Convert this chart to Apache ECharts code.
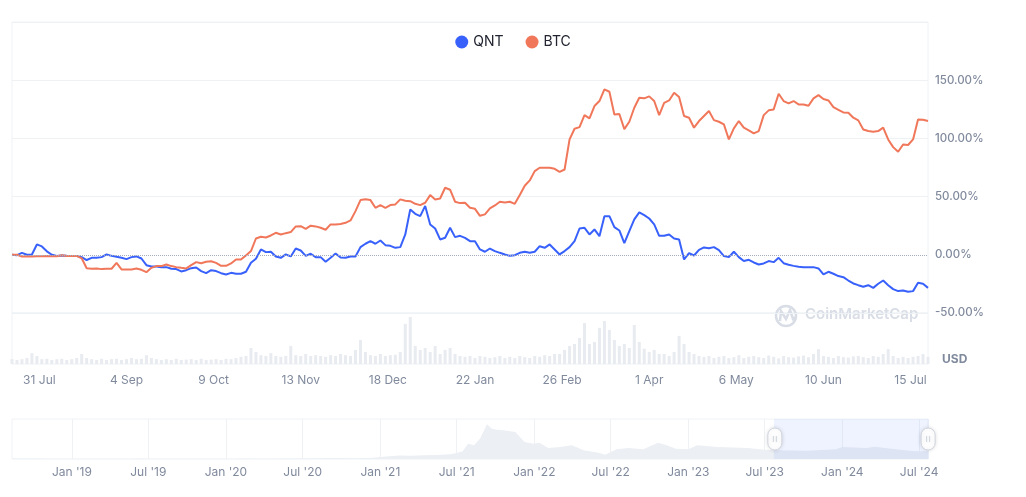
<!DOCTYPE html>
<html>
<head>
<meta charset="utf-8">
<title>QNT vs BTC</title>
<script src="https://cdn.jsdelivr.net/npm/echarts@6/dist/echarts.min.js"></script>
<style>
	html, body { margin: 0; padding: 0; background: #fff; }
	#mainchart { width: 1026px; height: 497px; }
</style>
</head>
<body>
<div id="mainchart"></div>
<script>
// one point every 2 days, starting 20 Jul 2023
var startDay = '2023-07-20'
var stepDays = 2

// % change since start
var qntChange = [
	0, -0.3, 1.7, 0, 0.3, 8.9, 7.2, 3.0, 0, -1.1,
	-0.6, -0.9, -1.1, -1.1, -2.0, -4.5, -2.6, -2.6, -2.0, 0.3,
	-0.9, -1.7, -2.6, -3.7, -2.0, -1.4, -3.2, -8.9, -10.0, -10.0,
	-10.6, -10.6, -12.0, -12.3, -14.3, -13.2, -11.5, -10.9, -14.0, -15.8,
	-13.2, -14.0, -15.8, -16.9, -15.5, -16.3, -16.3, -14.6, -6.9, -3.4,
	4.6, 2.3, 2.6, -1.4, -2.6, 0.3, -1.4, 5.4, 3.7, -0.9,
	0.9, -2.0, -2.0, -6.0, -2.6, 1.1, -2.3, -2.6, -1.4, -1.4,
	6.6, 9.5, 11.7, 9.5, 12.3, 8.3, 7.7, 6.0, 6.6, 17.5,
	39.0, 35.2, 33.2, 42.0, 26.1, 22.6, 13.2, 14.6, 23.2, 15.2,
	16.3, 14.6, 11.7, 11.7, 4.6, 2.6, 5.4, 3.2, 1.7, 0.3,
	-0.9, -0.3, 1.7, 2.6, 1.7, 2.6, 7.4, 6.0, 8.9, 4.6,
	0.3, 3.2, 6.6, 11.7, 22.6, 23.2, 17.5, 21.8, 16.0, 33.2,
	33.2, 23.8, 20.9, 10.0, 20.3, 30.4, 36.4, 34.1, 31.2, 26.1,
	16.3, 16.3, 17.5, 14.0, 13.2, -4.0, 1.4, -0.6, 4.3, 6.3,
	5.7, 6.6, 4.0, -1.1, -2.0, 2.6, -2.0, -5.4, -4.3, -6.6,
	-8.3, -7.4, -5.4, -6.3, -2.6, -7.2, -8.6, -9.5, -10.3, -10.6,
	-10.6, -10.6, -11.7, -16.9, -14.6, -16.3, -18.3, -19.2, -22.1, -24.6,
	-26.1, -27.5, -26.1, -28.4, -24.9, -22.1, -26.1, -29.5, -31.2, -30.7,
	-31.8, -31.2, -24.1, -24.9, -28.4
]
var btcChange = [
	0, 0, -1.5, -1.5, -1.5, -1.2, -1.2, -1.0, -1.2, -1.2,
	-0.3, -1.0, -1.0, -1.0, -3.0, -11.5, -12.0, -11.7, -12.3, -12.0,
	-12.0, -7.0, -12.6, -12.6, -12.6, -11.7, -12.9, -14.9, -11.2, -9.7,
	-9.7, -8.3, -9.7, -10.6, -11.2, -11.7, -8.9, -6.3, -7.2, -6.0,
	-5.5, -6.9, -9.5, -9.5, -7.4, -4.0, -4.0, -0.5, 3.2, 14.0,
	15.5, 14.9, 16.6, 18.9, 17.5, 18.6, 19.5, 24.4, 24.6, 22.3,
	25.0, 24.4, 23.2, 21.5, 26.1, 26.1, 26.4, 27.5, 29.5, 37.5,
	47.0, 47.8, 47.0, 40.4, 42.7, 40.4, 42.7, 43.3, 47.6, 46.4,
	46.1, 43.8, 42.7, 44.7, 51.3, 47.6, 48.4, 57.6, 55.9, 45.6,
	44.4, 44.7, 40.4, 39.5, 33.5, 34.7, 39.8, 42.4, 45.6, 45.0,
	45.6, 43.8, 51.3, 59.3, 63.9, 71.9, 74.8, 74.8, 74.8, 73.9,
	71.3, 73.3, 99.1, 108.3, 109.7, 120.0, 117.2, 127.8, 132.1, 142.1,
	140.1, 120.6, 121.0, 108.0, 114.3, 126.3, 134.9, 134.4, 136.1, 132.1,
	120.0, 130.6, 132.6, 139.2, 135.5, 119.2, 117.8, 109.2, 114.9, 119.2,
	123.5, 115.7, 114.3, 112.0, 99.1, 108.6, 114.9, 109.2, 106.9, 104.3,
	106.3, 120.0, 124.1, 124.9, 138.4, 132.1, 130.1, 132.1, 129.2, 129.2,
	128.1, 134.4, 137.2, 133.8, 132.6, 126.9, 124.6, 122.3, 122.0, 117.8,
	115.5, 107.7, 106.3, 105.7, 106.3, 109.2, 99.1, 92.5, 88.5, 94.8,
	94.3, 99.1, 116.3, 116.0, 114.9
]
// QNT volume, M USD
var qntVolume = [
	12, 10, 12, 15, 27, 20, 12, 13, 10, 12,
	13, 10, 12, 15, 25, 15, 12, 10, 13, 10,
	12, 13, 10, 12, 15, 12, 13, 22, 15, 12,
	10, 12, 10, 13, 10, 11, 12, 10, 13, 10,
	11, 12, 10, 13, 12, 15, 18, 20, 40, 30,
	22, 20, 27, 20, 18, 20, 45, 22, 20, 25,
	20, 22, 20, 18, 22, 20, 25, 22, 20, 35,
	60, 30, 22, 20, 25, 20, 22, 23, 30, 100,
	117, 45, 35, 40, 30, 45, 25, 35, 40, 25,
	20, 18, 20, 15, 20, 18, 15, 17, 20, 15,
	18, 15, 20, 17, 15, 20, 18, 22, 20, 25,
	25, 35, 45, 50, 65, 102, 50, 55, 90, 107,
	85, 60, 45, 50, 40, 97, 55, 38, 30, 35,
	25, 25, 20, 30, 70, 50, 30, 25, 20, 18,
	20, 15, 18, 20, 15, 17, 22, 15, 18, 20,
	17, 15, 21, 18, 14, 20, 17, 16, 19, 21,
	17, 25, 37, 20, 18, 15, 20, 17, 16, 19,
	20, 17, 15, 20, 18, 25, 37, 20, 15, 18,
	15, 18, 20, 25, 18
]
// bottom axis labels of the main chart
var axisDates = ['2023-07-31', '2023-09-04', '2023-10-09', '2023-11-13', '2023-12-18',
	'2024-01-22', '2024-02-26', '2024-04-01', '2024-05-06', '2024-06-10', '2024-07-15']

// overview (slider) price history, USD
var overviewDates = [
	'2018-08-12', '2018-09-15', '2018-10-15', '2018-11-15', '2018-12-15',
	'2019-01-15', '2019-02-15', '2019-03-15', '2019-04-15', '2019-05-15', '2019-06-15',
	'2019-07-15', '2019-08-15', '2019-09-15', '2019-10-15', '2019-11-15', '2019-12-15',
	'2020-01-15', '2020-02-15', '2020-03-15', '2020-04-15', '2020-05-15', '2020-06-15',
	'2020-07-15', '2020-08-15', '2020-09-15', '2020-10-15', '2020-11-15', '2020-12-15',
	'2021-01-15', '2021-02-15', '2021-03-15', '2021-04-15', '2021-05-15', '2021-06-15',
	'2021-07-01', '2021-07-15', '2021-07-28', '2021-08-11', '2021-08-25', '2021-09-11',
	'2021-09-22', '2021-10-05', '2021-10-20', '2021-11-05', '2021-11-17', '2021-12-09',
	'2021-12-30', '2022-01-13', '2022-02-03', '2022-03-03', '2022-03-31', '2022-04-28',
	'2022-06-02', '2022-06-18', '2022-07-15', '2022-08-12', '2022-09-16', '2022-10-21',
	'2022-11-11', '2022-12-02', '2023-01-01', '2023-01-22', '2023-03-12', '2023-05-22',
	'2023-07-01', '2023-07-29', '2023-10-08', '2023-12-17', '2024-01-01', '2024-02-26',
	'2024-03-18', '2024-05-07', '2024-06-19', '2024-07-22'
]
var overviewPrice = [
	6, 5, 5, 4, 3,
	3, 3, 4, 4, 4, 5,
	4, 3, 3, 3, 3, 3,
	4, 6, 4, 4, 5, 6,
	8, 10, 12, 10, 10, 14,
	30, 40, 38, 42, 45, 55,
	70, 90, 176, 158, 233, 400,
	348, 335, 330, 318, 310, 196,
	176, 187, 126, 138, 158, 100,
	72, 50, 112, 126, 112, 187,
	158, 118, 112, 158, 138, 126,
	107, 100, 95, 112, 138, 126,
	141, 112, 88, 88
]
var overviewTicks = ['2019-01-01', '2019-07-01', '2020-01-01', '2020-07-01', '2021-01-01', '2021-07-01',
	'2022-01-01', '2022-07-01', '2023-01-01', '2023-07-01', '2024-01-01', '2024-07-01']

var months = ['Jan', 'Feb', 'Mar', 'Apr', 'May', 'Jun', 'Jul', 'Aug', 'Sep', 'Oct', 'Nov', 'Dec']

// 'YYYY-MM-DD' -> local timestamp (plus extra days)
function ts(s, addDays) {
	var p = s.split('-')
	return new Date(+p[0], +p[1] - 1, +p[2] + (addDays || 0)).getTime()
}
function toPairs(values) {
	return values.map(function (v, i) { return [ts(startDay, i * stepDays), v] })
}
function overviewPairs() {
	return overviewDates.map(function (d, i) { return [ts(d), overviewPrice[i]] })
}

var mainMin = ts('2023-07-20'), mainMax = ts('2024-07-22')
var allMin = ts('2018-08-12'), allMax = ts('2024-07-22')

var labelGray = '#808a9d'
var lineGray = '#eff2f5'

let myChart = echarts.init(document.getElementById('mainchart'))
let option = {
	animation: false,
	textStyle: { fontFamily: 'Inter' },
	legend: {
		top: 30,
		left: 'center',
		icon: 'circle',
		itemWidth: 13,
		itemHeight: 13,
		itemGap: 22,
		textStyle: { color: '#222531', fontSize: 14 },
		data: ['QNT', 'BTC']
	},
	grid: [
		{ left: 12, right: 98, top: 22, bottom: 184, show: true, borderColor: lineGray, borderWidth: 1 },
		{ left: 12, right: 98, top: 313, bottom: 133, show: true, borderColor: lineGray, borderWidth: 1 },
		{ left: 12, right: 98, top: 419, bottom: 38, show: true, borderColor: lineGray, borderWidth: 1 }
	],
	xAxis: [
		{ type: 'value', gridIndex: 0, min: mainMin, max: mainMax, show: false },
		{
			type: 'value', gridIndex: 1, min: mainMin, max: mainMax,
			axisLine: { show: false },
			axisTick: { show: false, customValues: axisDates.map(function (d) { return ts(d) }) },
			splitLine: { show: false },
			axisLabel: {
				customValues: axisDates.map(function (d) { return ts(d) }),
				color: labelGray,
				fontSize: 12,
				margin: 10,
				formatter: function (v) {
					var d = new Date(v)
					return d.getDate() + ' ' + months[d.getMonth()]
				}
			}
		},
		{
			type: 'value', gridIndex: 2, min: allMin, max: allMax,
			axisLine: { show: false },
			axisTick: { show: false, customValues: overviewTicks.map(function (d) { return ts(d) }) },
			splitLine: { show: true, lineStyle: { color: lineGray } },
			axisLabel: {
				customValues: overviewTicks.map(function (d) { return ts(d) }),
				color: labelGray,
				fontSize: 12,
				margin: 7,
				formatter: function (v) {
					var d = new Date(v)
					return months[d.getMonth()] + " '" + String(d.getFullYear()).slice(2)
				}
			}
		},
		// hidden axis only used by the slider
		{ type: 'value', gridIndex: 2, min: allMin, max: allMax, show: false }
	],
	yAxis: [
		{
			type: 'value', gridIndex: 0, position: 'right',
			min: -50, max: 200, interval: 50,
			axisLine: { show: false },
			axisTick: { show: false },
			axisLabel: {
				color: labelGray, fontSize: 11.5, fontWeight: 500, margin: 7,
				formatter: function (v) { return v === 200 ? '' : v.toFixed(2) + '%' }
			},
			// 0% gets the dotted line instead
			splitLine: { lineStyle: { color: [lineGray, 'rgba(0,0,0,0)', lineGray, lineGray, lineGray, lineGray] } }
		},
		{ type: 'value', gridIndex: 1, min: 0, max: 127, show: false },
		{ type: 'value', gridIndex: 2, min: 0, max: 460, show: false },
		{ type: 'value', gridIndex: 2, min: 0, max: 460, show: false }
	],
	dataZoom: [{
		type: 'slider',
		xAxisIndex: 3,
		filterMode: 'none',
		startValue: mainMin,
		endValue: mainMax,
		left: 12, right: 98, top: 419, height: 40,
		backgroundColor: 'rgba(0,0,0,0)',
		borderColor: 'rgba(0,0,0,0)',
		fillerColor: 'rgba(56,97,251,0.08)',
		showDataShadow: false,
		showDetail: false,
		brushSelect: false,
		moveHandleSize: 0,
		moveHandleStyle: { opacity: 0 },
		handleIcon: 'path://M7,0 A7,7 0 0 1 14,7 L14,15 A7,7 0 0 1 0,15 L0,7 A7,7 0 0 1 7,0 Z M5.5,8 L5.5,14 M8.5,8 L8.5,14',
		handleSize: 22,
		handleStyle: { color: '#fff', borderColor: '#cfd4dd', borderWidth: 1, shadowBlur: 4, shadowColor: 'rgba(0,0,0,0.12)' }
	}],
	graphic: [
		{ type: 'circle', shape: { cx: 786, cy: 316, r: 10 }, style: { fill: 'none', stroke: '#d9dde6', lineWidth: 2.5 }, silent: true },
		{ type: 'polyline', shape: { points: [[780, 321], [781, 311], [786, 319], [790, 310], [793, 319], [796, 317]] }, style: { fill: 'none', stroke: '#d9dde6', lineWidth: 2.5 }, silent: true },
		{ type: 'text', left: 805, top: 307, silent: true, style: { text: 'CoinMarketCap', fill: '#d9dde6', font: '600 15px Inter' } },
		{ type: 'text', left: 942, top: 353, silent: true, style: { text: 'USD', fill: labelGray, font: '700 12px Inter' } }
	],
	series: [
		{
			name: 'QNT', type: 'line', xAxisIndex: 0, yAxisIndex: 0,
			data: toPairs(qntChange),
			color: '#3861fb',
			showSymbol: false, symbol: 'none',
			lineStyle: { width: 2 },
			markLine: {
				silent: true, symbol: 'none', label: { show: false },
				lineStyle: { type: 'dotted', color: '#a4acbd', width: 1 },
				data: [{ yAxis: 0 }]
			}
		},
		{
			name: 'BTC', type: 'line', xAxisIndex: 0, yAxisIndex: 0,
			data: toPairs(btcChange),
			color: '#f0775a',
			showSymbol: false, symbol: 'none',
			lineStyle: { width: 2 }
		},
		{
			name: 'Volume', type: 'bar', xAxisIndex: 1, yAxisIndex: 1,
			data: toPairs(qntVolume),
			barWidth: 3,
			silent: true,
			itemStyle: { color: '#e8ebf0' }
		},
		{
			name: 'Overview', type: 'line', xAxisIndex: 2, yAxisIndex: 2,
			data: overviewPairs(),
			symbol: 'none', silent: true,
			lineStyle: { width: 0 },
			areaStyle: { color: '#eceff3', opacity: 1 }
		},
		{
			name: 'SliderAnchor', type: 'line', xAxisIndex: 3, yAxisIndex: 3,
			data: overviewPairs(),
			symbol: 'none', silent: true,
			lineStyle: { opacity: 0 }
		}
	]
}
myChart.setOption(option)
</script>
</body>
</html>
